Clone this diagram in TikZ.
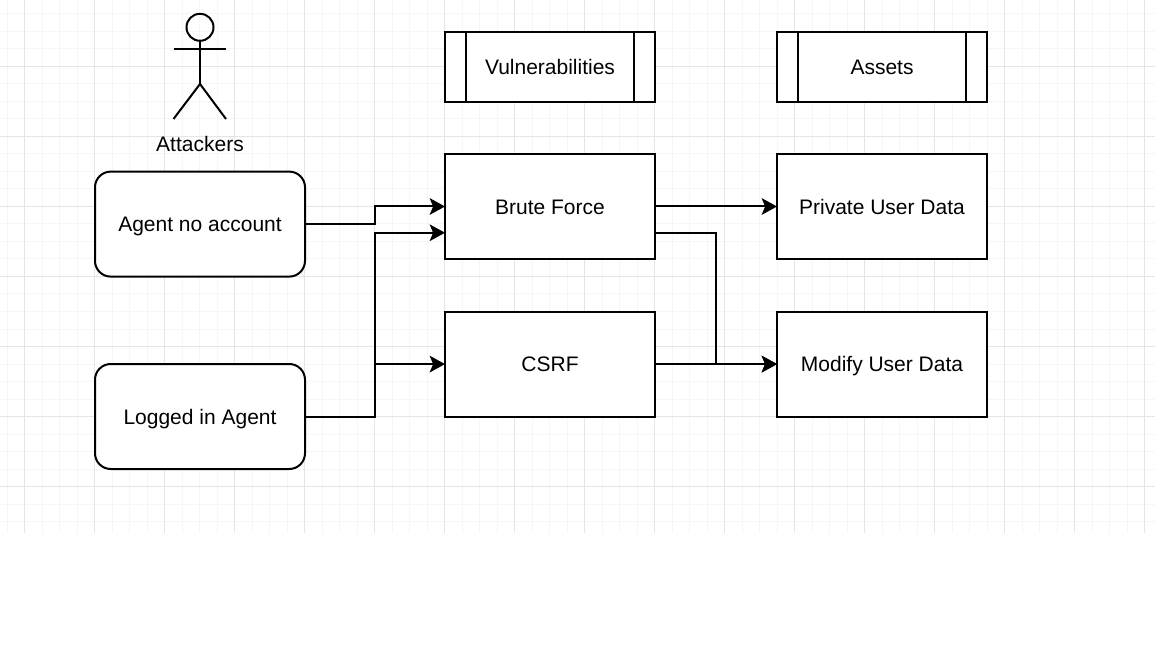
\documentclass[tikz,border=0pt]{standalone}
\usepackage{fontspec}
\setmainfont{Liberation Sans}
\usetikzlibrary{positioning,arrows.meta,calc}
\definecolor{gridminor}{HTML}{F6F6F6}
\definecolor{gridmajor}{HTML}{E5E5E5}
\tikzset{
  label/.style={font=\fontsize{15.75}{18}\selectfont,text height=11.3pt,text depth=0pt},
  box/.style={label,draw=black,fill=white,line width=1.5pt,outer sep=0pt,minimum width=157.5pt,minimum height=78.75pt},
  agent/.style={box,rounded corners=11.8pt},
  header/.style={box,minimum height=52.5pt,path picture={
    \draw[line width=1.5pt] ([xshift=15.75pt]path picture bounding box.north west)--([xshift=15.75pt]path picture bounding box.south west);
    \draw[line width=1.5pt] ([xshift=-15.75pt]path picture bounding box.north east)--([xshift=-15.75pt]path picture bounding box.south east);}},
  link/.style={-{Stealth[length=11.5pt,width=12.5pt,inset=2.6pt]},line width=1.5pt},
  stick/.style={line width=1.5pt}
}
\begin{document}
\begin{tikzpicture}[x=.75pt,y=-.75pt]
\useasboundingbox (0,0) rectangle (1155,648);
\foreach \k in {0,...,65}{\draw[gridminor,line width=.75pt] ({7+17.5*\k},0)--({7+17.5*\k},533);}
\foreach \k in {1,...,30}{\draw[gridminor,line width=.75pt] (0,{-3.5+17.5*\k})--(1155,{-3.5+17.5*\k});}
\foreach \k in {0,...,16}{\draw[gridmajor,line width=.75pt] ({24.5+70*\k},0)--({24.5+70*\k},533);}
\foreach \k in {0,...,6}{\draw[gridmajor,line width=.75pt] (0,{66.5+70*\k})--(1155,{66.5+70*\k});}
% attacker figure
\node[draw=black,line width=1.5pt,circle,minimum size=20.25pt,inner sep=0pt,outer sep=0pt] (head) at (200,27.3){};
\coordinate (hip) at (200,84);
\coordinate (larm) at (173.5,49);
\coordinate (rarm) at (226,49);
\coordinate (lfoot) at (173.5,119);
\coordinate (rfoot) at (226,119);
\draw[stick] (head.south)--(hip);
\draw[stick] (larm)--(rarm);
\draw[stick] (lfoot)--(hip)--(rfoot);
\node[label] (attackers) at (200,144){Attackers};
% boxes
\node[agent] (noacct) at (200,224.1){Agent no account};
\node[agent] (logged) at (200,416.5){Logged in Agent};
\node[header] (vuln) at (550,67){Vulnerabilities};
\node[header] (assets) at (882,67){Assets};
\node[box] (brute) at (550,206.5){Brute Force};
\node[box] (csrf) at (550,364.1){CSRF};
\node[box] (private) at (882,206.5){Private User Data};
\node[box] (modify) at (882,364.1){Modify User Data};
% connectors
\draw[link] (noacct.east)-- ++(70,0)|-(brute.west);
\draw[link] (logged.east)-- ++(70,0)|-($(brute.south west)!.25!(brute.north west)$);
\draw[link] (logged.east)-- ++(70,0)|-(csrf.west);
\draw[link] (brute.east)--(private.west);
\draw[link] ($(brute.south east)!.25!(brute.north east)$)-- ++(61,0)|-(modify.west);
\draw[link] (csrf.east)--(modify.west);
\end{tikzpicture}
\end{document}
